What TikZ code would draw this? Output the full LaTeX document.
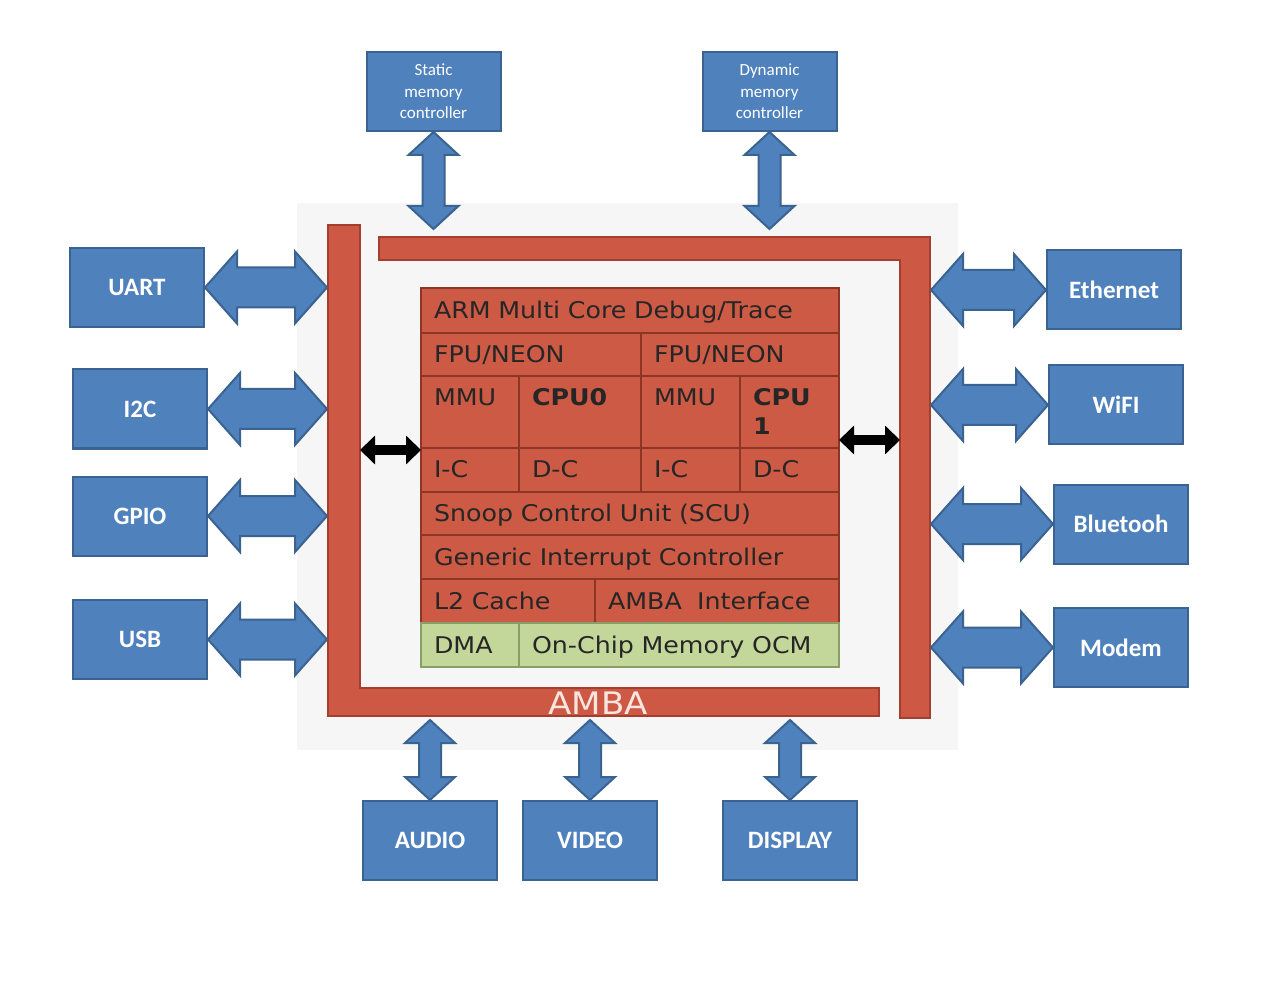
\documentclass[tikz,border=0pt]{standalone}
\usepackage{fontspec}
\setmainfont{DejaVu Sans}[FakeStretch=1.1]
\newfontfamily\boxfont{Carlito}
\usetikzlibrary{calc,arrows.meta}
\definecolor{boxblue}{HTML}{4F81BD}
\definecolor{boxedge}{HTML}{3A6391}
\definecolor{busred}{HTML}{CD5843}
\definecolor{busedge}{HTML}{A33F2E}
\definecolor{cellred}{HTML}{CD5A45}
\definecolor{celledge}{HTML}{8C3626}
\definecolor{cellgreen}{HTML}{C4D79B}
\definecolor{greenedge}{HTML}{8A9E68}
\definecolor{socgray}{HTML}{F6F6F6}
\definecolor{ambawhite}{HTML}{FAE6DF}
\tikzset{
  periph/.style={draw=boxedge, line width=2pt, fill=boxblue, text=white,
    minimum width=134, minimum height=79, inner sep=0pt,
    font=\boxfont\bfseries\fontsize{25}{29}\selectfont},
  memctrl/.style={periph, align=center, font=\boxfont\fontsize{17}{21.5}\selectfont},
  blockarrow/.style={draw=boxedge, line width=2pt, fill=boxblue, line join=miter},
  busbar/.style={draw=busedge, line width=1.5pt, fill=busred},
  cell/.style n args={3}{draw=celledge, line width=1.5pt, fill=cellred,
    anchor=north west, outer sep=0pt, inner xsep=13pt, inner ysep=0pt, align=left,
    text=black!85, font=\fontsize{23}{28.6}\selectfont,
    text height=20pt, text depth=4pt,
    minimum width=#1, minimum height=#2, text width=#3},
  toptext/.style={text height=30pt, text depth=42pt},
  memcell/.style={draw=greenedge, fill=cellgreen},
  corearrow/.style={line width=10pt, {Triangle[length=15pt,width=28pt]}-{Triangle[length=15pt,width=28pt]}},
  ambalabel/.style={text=ambawhite, inner sep=0pt, font=\fontsize{31}{36}\selectfont}
}
% horizontal block arrow, left end #1, right end #2
\newcommand{\hbusarrow}[2]{%
  \coordinate (ha) at (#1); \coordinate (hb) at (#2);
  \draw[blockarrow] (ha) -- ($(ha)+(32,-36)$) -- ($(ha)+(32,-20)$) -- ($(hb)+(-32,-20)$)
    -- ($(hb)+(-32,-36)$) -- (hb) -- ($(hb)+(-32,36)$) -- ($(hb)+(-32,20)$)
    -- ($(ha)+(32,20)$) -- ($(ha)+(32,36)$) -- cycle;}
% vertical block arrow, top end #1, bottom end #2
\newcommand{\vbusarrow}[2]{%
  \coordinate (va) at (#1); \coordinate (vb) at (#2);
  \draw[blockarrow] (va) -- ($(va)+(25,23)$) -- ($(va)+(11,23)$) -- ($(vb)+(11,-23)$)
    -- ($(vb)+(25,-23)$) -- (vb) -- ($(vb)+(-25,-23)$) -- ($(vb)+(-11,-23)$)
    -- ($(va)+(-11,23)$) -- ($(va)+(-25,23)$) -- cycle;}
\begin{document}
\begin{tikzpicture}[x=1pt,y=-1pt]
  \useasboundingbox (0,0) rectangle (1272,981);
  \fill[white] (0,0) rectangle (1272,981);
  \fill[socgray] (297,203) rectangle (958,750);
  % AMBA bus
  \draw[busbar] (328,225) -- (360,225) -- (360,688) -- (879,688) -- (879,716) -- (328,716) -- cycle;
  \draw[busbar] (379,237) -- (930,237) -- (930,718) -- (900,718) -- (900,260) -- (379,260) -- cycle;
  \coordinate (busW) at (327,0);
  \coordinate (busE) at (931,0);
  \coordinate (busN) at (0,229);
  \coordinate (busS) at (0,720);
  \coordinate (lbarin) at (360,450);
  \coordinate (rbarin) at (900,440);
  \node[ambalabel] (ambatxt) at (598,703) {AMBA};
  % dual core block
  \node[cell={418}{45}{392}] (dbg) at (421,288) {ARM Multi Core Debug/Trace};
  \node[cell={220}{43}{194}] (fpu0) at (dbg.south west) {FPU/NEON};
  \node[cell={198}{43}{172}] (fpu1) at (fpu0.north east) {FPU/NEON};
  \node[cell={98}{72}{72}, toptext] (mmu0) at (fpu0.south west) {MMU};
  \node[cell={122}{72}{96}, toptext] (cpu0) at (mmu0.north east) {\textbf{CPU0}};
  \node[cell={99}{72}{73}, toptext] (mmu1) at (cpu0.north east) {MMU};
  \node[cell={99}{72}{73}, toptext] (cpu1) at (mmu1.north east) {\textbf{CPU}\\\textbf{1}};
  \node[cell={98}{44}{72}] (ic0) at (mmu0.south west) {I-C};
  \node[cell={122}{44}{96}] (dc0) at (ic0.north east) {D-C};
  \node[cell={99}{44}{73}] (ic1) at (dc0.north east) {I-C};
  \node[cell={99}{44}{73}] (dc1) at (ic1.north east) {D-C};
  \node[cell={418}{43}{392}] (scu) at (ic0.south west) {Snoop Control Unit (SCU)};
  \node[cell={418}{44}{392}] (gic) at (scu.south west) {Generic Interrupt Controller};
  \node[cell={174}{44}{148}] (l2) at (gic.south west) {L2 Cache};
  \node[cell={244}{44}{218}] (ambaif) at (l2.north east) {AMBA~ Interface};
  \node[cell={98}{44}{72}, memcell] (dma) at (l2.south west) {DMA};
  \node[cell={320}{44}{294}, memcell] (ocm) at (dma.north east) {On-Chip Memory OCM};
  \draw[corearrow] (lbarin) -- (lbarin -| dbg.west);
  \draw[corearrow] (rbarin -| dbg.east) -- (rbarin);
  % peripherals
  \node[periph] (uart) at (137,287.5) {UART};
  \node[periph] (i2c) at (140,409) {I2C};
  \node[periph] (gpio) at (140,516) {GPIO};
  \node[periph] (usb) at (140,639.5) {USB};
  \node[periph] (eth) at (1114,290) {Ethernet};
  \node[periph] (wifi) at (1116,405) {WiFI};
  \node[periph] (bt) at (1121,524) {Bluetooh};
  \node[periph] (modem) at (1121,647.5) {Modem};
  \node[memctrl] (smc) at (433.5,91.5) {Static\\memory\\controller};
  \node[memctrl] (dmc) at (769.5,91.5) {Dynamic\\memory\\controller};
  \node[periph] (audio) at (430,840.5) {AUDIO};
  \node[periph] (video) at (590,840.5) {VIDEO};
  \node[periph] (display) at (790,840.5) {DISPLAY};
  \hbusarrow{uart.east}{uart.east -| busW}
  \hbusarrow{i2c.east}{i2c.east -| busW}
  \hbusarrow{gpio.east}{gpio.east -| busW}
  \hbusarrow{usb.east}{usb.east -| busW}
  \hbusarrow{eth.west -| busE}{eth.west}
  \hbusarrow{wifi.west -| busE}{wifi.west}
  \hbusarrow{bt.west -| busE}{bt.west}
  \hbusarrow{modem.west -| busE}{modem.west}
  \vbusarrow{smc.south}{smc.south |- busN}
  \vbusarrow{dmc.south}{dmc.south |- busN}
  \vbusarrow{audio.north |- busS}{audio.north}
  \vbusarrow{video.north |- busS}{video.north}
  \vbusarrow{display.north |- busS}{display.north}
\end{tikzpicture}
\end{document}
